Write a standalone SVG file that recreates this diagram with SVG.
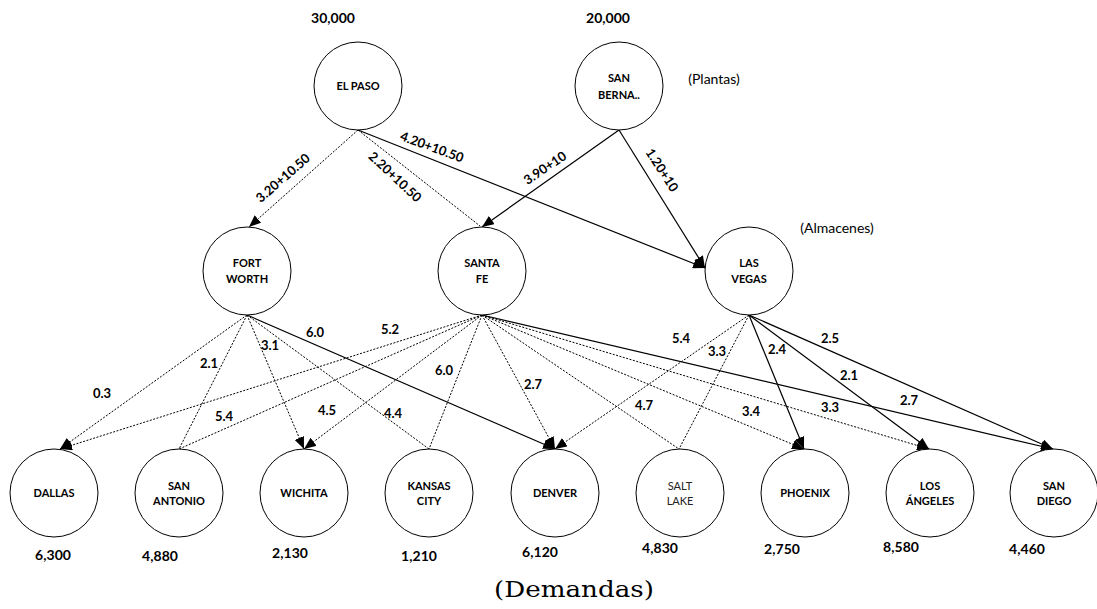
<svg xmlns="http://www.w3.org/2000/svg" width="1097" height="609" viewBox="0 0 1097 609">
<defs>
<style>
.n{fill:#fff;stroke:#000;stroke-width:1}
.t{font-family:Lato,"Liberation Sans",sans-serif;font-weight:bold;font-size:11px;text-anchor:middle;fill:#000}
.tr{font-family:Lato,"Liberation Sans",sans-serif;font-weight:normal;font-size:11px;text-anchor:middle;fill:#222}
.q{font-family:Lato,"Liberation Sans",sans-serif;font-weight:bold;font-size:14px;text-anchor:middle;fill:#000}
.l{font-family:Lato,"Liberation Sans",sans-serif;font-weight:bold;font-size:13px;text-anchor:middle;fill:#000}
.c{font-family:Lato,"Liberation Sans",sans-serif;font-size:14px;text-anchor:middle;fill:#000}
.s{stroke:#000;stroke-width:1.2;fill:none}
.d{stroke:#000;stroke-width:1;stroke-dasharray:2 1.5;fill:none}
.a{marker-end:url(#arr)}
</style>
<marker id="arr" viewBox="0 0 12 10" refX="12" refY="5" markerWidth="12" markerHeight="10" markerUnits="userSpaceOnUse" orient="auto"><path d="M0,0 L12,5 L0,10 z" fill="#000" stroke="none"/></marker>
</defs>
<rect width="1097" height="609" fill="#fff"/>
<g id="connectors">
<line class="d a" x1="358" y1="130" x2="249" y2="227"/>
<line class="d" x1="358" y1="130" x2="480" y2="226"/>
<line class="s a" x1="358" y1="130" x2="705" y2="268"/>
<line class="s a" x1="619" y1="130" x2="482" y2="227"/>
<line class="s a" x1="619" y1="130" x2="705" y2="268"/>
<line class="d a" x1="247" y1="315" x2="60" y2="449"/>
<line class="d" x1="247" y1="315" x2="179" y2="449"/>
<line class="d a" x1="247" y1="315" x2="304" y2="449"/>
<line class="d" x1="247" y1="315" x2="429" y2="449"/>
<line class="s a" x1="247" y1="315" x2="555" y2="449"/>
<line class="d a" x1="482" y1="315" x2="60" y2="449"/>
<line class="d" x1="482" y1="315" x2="179" y2="449"/>
<line class="d a" x1="482" y1="315" x2="304" y2="449"/>
<line class="d" x1="482" y1="315" x2="429" y2="449"/>
<line class="d a" x1="482" y1="315" x2="555" y2="449"/>
<line class="d" x1="482" y1="315" x2="679" y2="449"/>
<line class="d a" x1="482" y1="315" x2="804" y2="449"/>
<line class="d a" x1="482" y1="315" x2="929" y2="449"/>
<line class="s a" x1="482" y1="315" x2="1053" y2="449"/>
<line class="d a" x1="749" y1="315" x2="555" y2="449"/>
<line class="d" x1="749" y1="315" x2="679" y2="449"/>
<line class="s a" x1="749" y1="315" x2="804" y2="449"/>
<line class="s a" x1="749" y1="315" x2="929" y2="449"/>
<line class="s a" x1="749" y1="315" x2="1053" y2="449"/>
<g id="edge-labels">
<text class="l" transform="translate(283,178) rotate(-41)" y="4.5">3.20+10.50</text>
<text class="l" transform="translate(395,177) rotate(43)" y="4.5">2.20+10.50</text>
<text class="l" transform="translate(432,147) rotate(20)" y="4.5">4.20+10.50</text>
<text class="l" transform="translate(545,168) rotate(-34)" y="4.5">3.90+10</text>
<text class="l" transform="translate(662,170) rotate(57)" y="4.5">1.20+10</text>
<text class="l" x="102" y="397.5">0.3</text>
<text class="l" x="209" y="367.5">2.1</text>
<text class="l" x="270" y="349.5">3.1</text>
<text class="l" x="315" y="336.5">6.0</text>
<text class="l" x="393" y="417.5">4.4</text>
<text class="l" x="390" y="333.5">5.2</text>
<text class="l" x="224" y="420.5">5.4</text>
<text class="l" x="327" y="414.5">4.5</text>
<text class="l" x="444" y="374.5">6.0</text>
<text class="l" x="533" y="388.5">2.7</text>
<text class="l" x="644" y="409.5">4.7</text>
<text class="l" x="751" y="415.5">3.4</text>
<text class="l" x="830" y="411.5">3.3</text>
<text class="l" x="909" y="404.5">2.7</text>
<text class="l" x="681" y="342.5">5.4</text>
<text class="l" x="717" y="355.5">3.3</text>
<text class="l" x="777" y="353.5">2.4</text>
<text class="l" x="849" y="379.5">2.1</text>
<text class="l" x="830" y="342.5">2.5</text>
</g>
</g>
<g id="elpaso"><circle class="n" cx="358" cy="86" r="44"/><text class="t" x="358" y="90">EL PASO</text><text class="q" x="333" y="23">30,000</text></g>
<g id="sanberna"><circle class="n" cx="619" cy="86" r="44"/><text class="t" x="619" y="82">SAN</text><text class="t" x="619" y="99">BERNA..</text><text class="q" x="608" y="23">20,000</text></g>
<text class="c" x="714" y="84">(Plantas)</text>
<g id="fortworth"><circle class="n" cx="247" cy="271" r="44"/><text class="t" x="247" y="267">FORT</text><text class="t" x="247" y="283">WORTH</text></g>
<g id="santafe"><circle class="n" cx="482" cy="271" r="44"/><text class="t" x="482" y="267">SANTA</text><text class="t" x="482" y="283">FE</text></g>
<g id="lasvegas"><circle class="n" cx="749" cy="271" r="44"/><text class="t" x="749" y="267">LAS</text><text class="t" x="749" y="283">VEGAS</text></g>
<text class="c" x="837" y="233">(Almacenes)</text>
<g id="dallas"><circle class="n" cx="54" cy="493" r="44"/><text class="t" x="54" y="497">DALLAS</text><text class="q" x="53" y="560">6,300</text></g>
<g id="sanantonio"><circle class="n" cx="179" cy="493" r="44"/><text class="t" x="179" y="490">SAN</text><text class="t" x="179" y="505">ANTONIO</text><text class="q" x="160" y="561">4,880</text></g>
<g id="wichita"><circle class="n" cx="304" cy="493" r="44"/><text class="t" x="304" y="497">WICHITA</text><text class="q" x="290" y="558">2,130</text></g>
<g id="kansascity"><circle class="n" cx="429" cy="493" r="44"/><text class="t" x="429" y="490">KANSAS</text><text class="t" x="429" y="505">CITY</text><text class="q" x="419" y="561">1,210</text></g>
<g id="denver"><circle class="n" cx="555" cy="493" r="44"/><text class="t" x="555" y="497">DENVER</text><text class="q" x="540" y="557">6,120</text></g>
<g id="saltlake"><circle class="n" cx="680" cy="493" r="44"/><text class="tr" x="680" y="490">SALT</text><text class="tr" x="680" y="505">LAKE</text><text class="q" x="660" y="553">4,830</text></g>
<g id="phoenix"><circle class="n" cx="805" cy="493" r="44"/><text class="t" x="805" y="497">PHOENIX</text><text class="q" x="782" y="554">2,750</text></g>
<g id="losangeles"><circle class="n" cx="930" cy="493" r="44"/><text class="t" x="930" y="490">LOS</text><text class="t" x="930" y="505">ÁNGELES</text><text class="q" x="901" y="552">8,580</text></g>
<g id="sandiego"><circle class="n" cx="1054" cy="493" r="44"/><text class="t" x="1054" y="490">SAN</text><text class="t" x="1054" y="505">DIEGO</text><text class="q" x="1027" y="554">4,460</text></g>
<text x="574" y="597" font-family="'DejaVu Serif','Liberation Serif',serif" font-size="23" text-anchor="middle" textLength="160" lengthAdjust="spacingAndGlyphs">(Demandas)</text>
</svg>
